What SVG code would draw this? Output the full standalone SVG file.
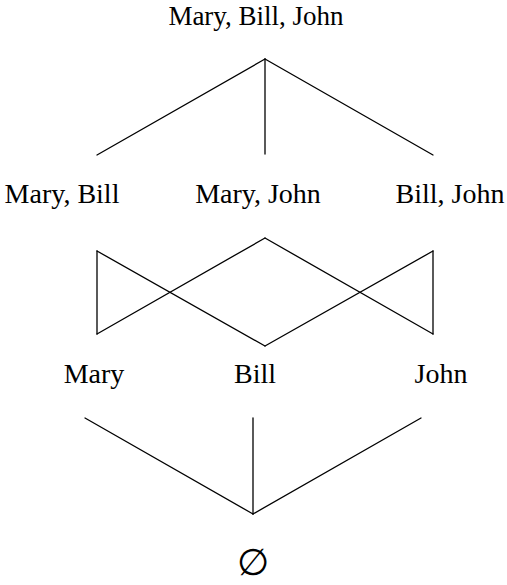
<svg xmlns="http://www.w3.org/2000/svg" width="507" height="585" viewBox="0 0 507 585">
<style>
text{font-family:"Liberation Serif","Times New Roman",serif;font-size:28px;fill:#000;text-anchor:middle}
.e line{stroke:#000;stroke-width:1.3;fill:none;stroke-linecap:round}
</style>
<rect width="507" height="585" fill="#fff"/>
<g class="e" id="connectors">
<line x1="265" y1="59" x2="97" y2="155"/>
<line x1="265" y1="59" x2="265" y2="154"/>
<line x1="265" y1="59" x2="433" y2="155"/>
<line x1="97" y1="251" x2="265" y2="346"/>
<line x1="97" y1="334" x2="265" y2="238"/>
<line x1="265" y1="238" x2="433" y2="334"/>
<line x1="433" y1="251" x2="265" y2="346"/>
<line x1="97" y1="251" x2="97" y2="334"/>
<line x1="433" y1="251" x2="433" y2="334"/>
<line x1="85" y1="418" x2="253" y2="514"/>
<line x1="253" y1="418" x2="253" y2="514"/>
<line x1="421" y1="418" x2="253" y2="514"/>
</g>
<g id="n-mbj"><text x="256" y="25" style="font-size:27px">Mary, Bill, John</text></g>
<g id="n-mb"><text x="62" y="203">Mary, Bill</text></g>
<g id="n-mj"><text x="258" y="203">Mary, John</text></g>
<g id="n-bj"><text x="450" y="203">Bill, John</text></g>
<g id="n-m"><text x="94" y="383">Mary</text></g>
<g id="n-b"><text x="255" y="383">Bill</text></g>
<g id="n-j"><text x="441" y="383">John</text></g>
<g id="n-empty"><text x="253" y="575" style="font-family:'DejaVu Sans',sans-serif;font-size:37px">∅</text></g>
</svg>
